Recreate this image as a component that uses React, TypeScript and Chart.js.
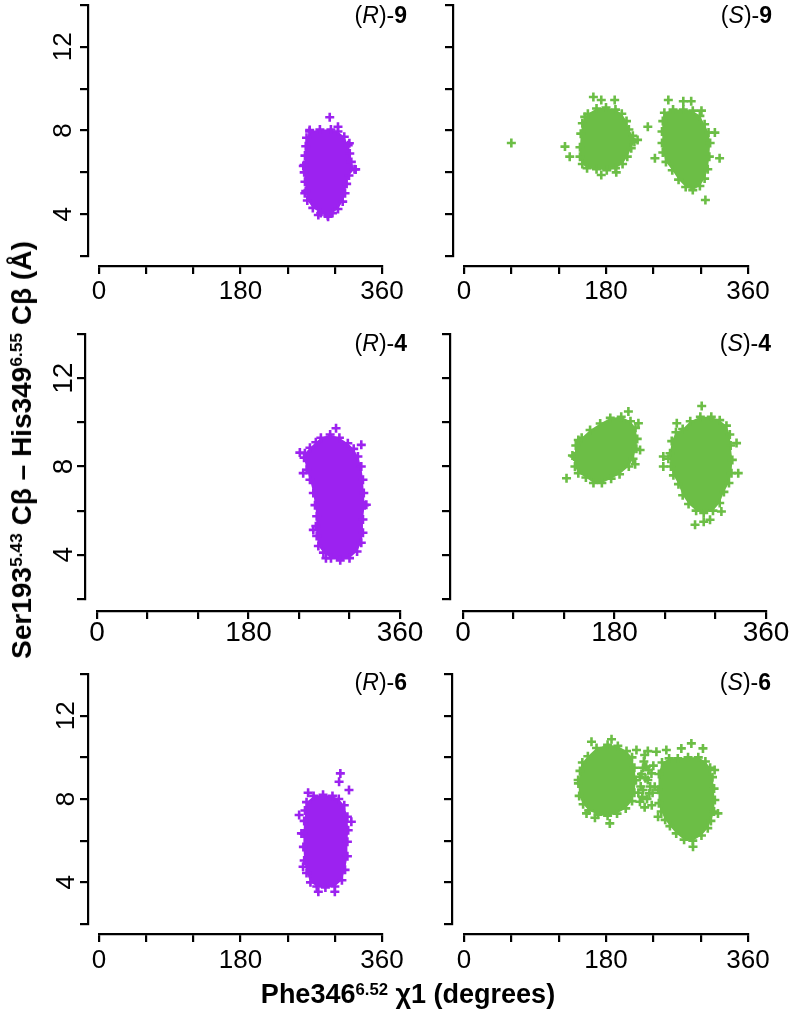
import React, { useEffect, useRef } from "react";
import { Chart, registerables } from "chart.js";

Chart.register(...registerables);

type Pt = [number, number];

const FONT = '"Liberation Sans", Arial, Helvetica, sans-serif';

// axes
const X_MIN = 0;
const X_MAX = 360;
const X_STEP = 60;
const Y_MIN = 2;
const Y_MAX = 14;
const Y_STEP = 2;
const X_TICK_LABELS = [0, 180, 360];
const Y_TICK_LABELS = [4, 8, 12];

const PURPLE = "#9c22f0";
const GREEN = "#6cbe46";

// (R)-9 : outline of the dense cloud, and the sparse points around it
const R9_CLOUD: Pt[] = [
  [268, 7.95], [281, 8.05], [295, 8.05], [304, 7.95], [312, 7.7], [317, 7.3], [319, 6.9],
  [321, 6.5], [325, 6.15], [318, 5.85], [315, 5.45], [313, 5.0], [310, 4.6], [304, 4.25],
  [297, 4.05], [291, 3.95], [282, 4.05], [272, 4.3], [265, 4.65], [263, 5.1], [262, 5.55],
  [261, 6.0], [261, 6.35], [262, 6.8], [263, 7.25], [264, 7.65],
];
const R9_SPARSE: Pt[] = [
  [293.5, 8.63], [304, 8.18], [318.5, 7.39], [326.5, 6.14], [259.9, 6.3], [261.8, 5.0],
  [291.4, 3.88], [279, 3.96], [268, 8.02],
];

// (S)-9
const S9_CLOUD_A: Pt[] = [
  [157, 8.8], [168, 9.05], [180, 9.1], [192, 9.0], [200, 8.8], [206, 8.45], [209, 8.05],
  [214, 7.75], [216, 7.45], [212, 7.15], [207, 6.75], [201, 6.4], [192, 6.2], [181, 6.1],
  [168, 6.15], [156, 6.2], [150, 6.4], [147, 6.75], [147, 7.2], [148, 7.85], [150, 8.35],
  [153, 8.65],
];
const S9_CLOUD_B: Pt[] = [
  [254, 8.85], [265, 9.0], [278, 9.0], [290, 8.95], [299, 8.7], [305, 8.3], [310, 7.9],
  [312, 7.4], [311, 6.75], [309, 6.15], [305, 5.7], [299, 5.35], [290, 5.15], [281, 5.3],
  [272, 5.65], [264, 6.1], [256, 6.5], [252, 6.95], [251, 7.4], [251, 7.95], [252, 8.45],
];
const S9_SPARSE: Pt[] = [
  [60, 7.4], [164, 9.6], [174, 9.46], [191, 9.46], [128, 7.23], [134, 6.75], [220, 7.55],
  [174, 5.87], [193, 6.0], [233, 8.18], [242, 6.67], [259, 9.46], [278, 9.4], [288, 9.4],
  [301, 8.95], [324, 6.67], [306, 4.68], [318, 7.9],
];

// (R)-4
const R4_CLOUD: Pt[] = [
  [266, 9.3], [277, 9.45], [288, 9.3], [298, 9.05], [305, 8.8], [310, 8.45], [314, 8.0],
  [316, 7.4], [317, 6.8], [318, 6.25], [316, 5.6], [316, 5.0], [314, 4.55], [309, 4.15],
  [300, 3.85], [289, 3.75], [278, 3.85], [269, 4.1], [263, 4.4], [261, 4.85], [260, 5.3],
  [261, 5.75], [259, 6.25], [257, 6.8], [253, 7.4], [249, 7.85], [246, 8.4], [247, 8.6],
  [253, 8.85], [260, 9.1],
];
const R4_SPARSE: Pt[] = [
  [284, 9.73], [241, 8.63], [314, 8.98], [245, 7.7], [320, 6.27], [257, 5.13], [272, 3.85],
];

// (S)-4
const S4_CLOUD_A: Pt[] = [
  [141, 9.3], [151, 9.65], [163, 9.95], [175, 10.2], [188, 10.25], [199, 10.05], [205, 9.75],
  [207, 9.25], [206, 8.8], [202, 8.35], [197, 8.0], [186, 7.65], [176, 7.45], [165, 7.25],
  [155, 7.25], [146, 7.5], [137, 7.7], [133, 8.0], [132, 8.45], [134, 8.95], [137, 9.2],
];
const S4_CLOUD_B: Pt[] = [
  [253, 9.55], [261, 9.7], [270, 10.05], [282, 10.25], [295, 10.25], [305, 10.1], [313, 9.85],
  [317, 9.45], [318, 8.95], [320, 8.3], [319, 7.7], [316, 7.25], [310, 6.85], [305, 6.35],
  [297, 6.0], [286, 5.9], [277, 6.0], [268, 6.3], [261, 6.7], [256, 7.2], [250, 7.6],
  [247, 8.0], [246, 8.6], [248, 9.15],
];
const S4_SPARSE: Pt[] = [
  [123, 7.47], [196.5, 10.49], [208.4, 9.96], [210.4, 8.75], [204.5, 8.1], [130, 8.5],
  [238, 8.45], [238, 8.0], [254, 9.96], [283.6, 10.74], [325, 9.06], [327, 7.7],
  [275.7, 5.36], [293.5, 5.59], [307, 5.96], [286, 5.5], [244, 8.35],
];

// (R)-6
const R6_CLOUD: Pt[] = [
  [264, 7.85], [273, 8.15], [285, 8.2], [297, 8.15], [305, 8.0], [312, 7.7], [316, 7.15],
  [317, 6.5], [316, 5.95], [316, 5.25], [313, 4.6], [309, 4.1], [300, 3.8], [288, 3.75],
  [277, 3.8], [269, 4.0], [264, 4.45], [261, 5.05], [260, 5.7], [260, 6.35], [261, 6.95],
  [262, 7.45],
];
const R6_SPARSE: Pt[] = [
  [307, 9.23], [305.4, 8.83], [318, 8.43], [254.6, 7.23], [266, 8.3], [257.5, 6.35],
  [259.6, 4.75], [321, 6.91], [279, 3.55], [300, 3.55],
];

// (S)-6
const S6_CLOUD_A: Pt[] = [
  [157, 10.05], [168, 10.45], [182, 10.6], [195, 10.55], [206, 10.3], [213, 10.0], [216, 9.5],
  [218, 8.9], [216, 8.3], [213, 7.9], [205, 7.55], [194, 7.3], [182, 7.2], [170, 7.25],
  [158, 7.45], [151, 7.75], [146, 8.15], [145, 8.75], [147, 9.35], [150, 9.75],
];
const S6_CLOUD_B: Pt[] = [
  [251, 9.75], [260, 9.95], [271, 9.95], [284, 10.0], [297, 10.0], [306, 9.8], [312, 9.5],
  [315, 9.05], [317, 8.5], [318, 7.95], [317, 7.4], [313, 6.95], [309, 6.6], [301, 6.25],
  [290, 6.0], [279, 6.05], [269, 6.35], [261, 6.7], [255, 7.0], [250, 7.4], [247, 7.8],
  [246, 8.45], [247, 9.2],
];
const S6_SPARSE: Pt[] = [
  [187, 10.87], [161.6, 10.75], [218.6, 10.35], [144.7, 8.91], [155.3, 7.31], [184.8, 6.83],
  [166, 7.1], [222.8, 9.07], [229, 10.11], [231, 9.55], [233, 8.91], [227, 8.43], [223, 7.87],
  [235, 8.27], [237.6, 9.23], [225, 9.2], [228, 9.8], [236, 8.6], [226, 8.1], [243.9, 10.27],
  [230, 9.0], [232, 8.0], [238, 7.7], [224, 8.6], [229, 7.6], [240, 9.6], [233, 10.3],
  [221, 8.3], [227, 9.5], [234, 9.4], [239, 8.3],
  [256.5, 10.35], [275.5, 10.43], [288.2, 10.67], [302.9, 10.43], [321.9, 7.31], [317.7, 9.39],
  [290.3, 5.71], [241.8, 8.59], [246, 7.15],
];

type PanelDef = {
  conf: string;
  num: string;
  color: string;
  clouds: Pt[][];
  sparse: Pt[];
  yLabels: boolean;
  area: [number, number, number, number]; // left, top, right, bottom (px)
  yLine: number;
  xLine: number;
  tickFont: number;
  xLabelOff: number;
  yLabelOff: number;
  tag: [number, number]; // right edge, baseline
};

const PANELS: PanelDef[] = [
  { conf: "R", num: "9", color: PURPLE, clouds: [R9_CLOUD], sparse: R9_SPARSE, yLabels: true,
    area: [99, 5, 382, 256], yLine: 88, xLine: 266, tickFont: 26, xLabelOff: 25.7, yLabelOff: 24.2, tag: [407, 23] },
  { conf: "S", num: "9", color: GREEN, clouds: [S9_CLOUD_A, S9_CLOUD_B], sparse: S9_SPARSE, yLabels: false,
    area: [464, 5, 748, 256], yLine: 453, xLine: 266, tickFont: 26, xLabelOff: 25.7, yLabelOff: 24.2, tag: [772, 23] },
  { conf: "R", num: "4", color: PURPLE, clouds: [R4_CLOUD], sparse: R4_SPARSE, yLabels: true,
    area: [97, 334, 400, 599], yLine: 85, xLine: 611, tickFont: 28, xLabelOff: 22.5, yLabelOff: 20.5, tag: [407, 351] },
  { conf: "S", num: "4", color: GREEN, clouds: [S4_CLOUD_A, S4_CLOUD_B], sparse: S4_SPARSE, yLabels: false,
    area: [463, 334, 766, 599], yLine: 450, xLine: 611, tickFont: 28, xLabelOff: 22.5, yLabelOff: 20.5, tag: [771, 351] },
  { conf: "R", num: "6", color: PURPLE, clouds: [R6_CLOUD], sparse: R6_SPARSE, yLabels: true,
    area: [99, 674, 382, 924], yLine: 88, xLine: 934, tickFont: 26, xLabelOff: 27, yLabelOff: 21.4, tag: [407, 690] },
  { conf: "S", num: "6", color: GREEN, clouds: [S6_CLOUD_A, S6_CLOUD_B], sparse: S6_SPARSE, yLabels: false,
    area: [464, 674, 748, 924], yLine: 452, xLine: 934, tickFont: 26, xLabelOff: 27, yLabelOff: 21.4, tag: [771, 690] },
];

const TICK_LEN = 8;
const LEFT_SPACE = 62;
const TOP_SPACE = 8;
const RIGHT_SPACE = 34;
const BOTTOM_SPACE = 50;

function Panel({ p }: { p: PanelDef }) {
  const ref = useRef<HTMLCanvasElement>(null);
  const [l, t, r, b] = p.area;
  const cLeft = p.yLine - LEFT_SPACE;
  const cTop = t - TOP_SPACE;
  const cW = r + RIGHT_SPACE - cLeft;
  const cH = p.xLine + BOTTOM_SPACE - cTop;

  useEffect(() => {
    if (!ref.current) return;
    const xPad = p.xLabelOff - TICK_LEN - (p.tickFont * 1.2) / 2;
    const yPad = p.yLabelOff - TICK_LEN - (p.tickFont * 1.112) / 2;
    const cross = {
      pointStyle: "cross",
      pointRadius: 4.5,
      pointHoverRadius: 4.5,
      pointBorderWidth: 2.6,
      pointBorderColor: p.color,
      pointBackgroundColor: p.color,
    };
    const toXY = (pts: Pt[]) => pts.map(([x, y]) => ({ x, y }));
    const datasets: any[] = [
      ...p.clouds.map((c) => ({
        data: toXY(c),
        showLine: true,
        fill: "shape",
        backgroundColor: p.color,
        borderColor: p.color,
        borderWidth: 0,
        tension: 0,
        ...cross,
      })),
      {
        data: toXY(p.sparse),
        showLine: false,
        backgroundColor: p.color,
        borderColor: p.color,
        ...cross,
      },
    ];
    const gridOpts = {
      display: true,
      drawOnChartArea: false,
      drawTicks: true,
      tickLength: TICK_LEN,
      lineWidth: 2.2,
      color: "#000",
    };
    const borderOpts = { display: true, width: 2.2, color: "#000" };
    const hidden = {
      ticks: { display: false },
      grid: { display: false },
      border: { display: false },
    };
    const chart = new Chart(ref.current, {
      type: "scatter",
      data: { datasets },
      options: {
        responsive: false,
        animation: false,
        events: [],
        layout: {
          autoPadding: false,
          padding: { left: 0, top: TOP_SPACE, right: RIGHT_SPACE, bottom: 0 },
        },
        plugins: {
          legend: { display: false },
          tooltip: { enabled: false },
          title: { display: false },
        },
        scales: {
          x: {
            type: "linear",
            position: "bottom",
            weight: 1,
            min: X_MIN,
            max: X_MAX,
            afterFit: (s: any) => {
              s.height = BOTTOM_SPACE;
              s.paddingLeft = 0;
              s.paddingRight = 0;
            },
            ticks: {
              stepSize: X_STEP,
              autoSkip: false,
              maxRotation: 0,
              minRotation: 0,
              padding: xPad,
              color: "#000",
              font: { family: FONT, size: p.tickFont },
              callback: (v: any) => (X_TICK_LABELS.includes(v) ? String(v) : ""),
            },
            grid: gridOpts,
            border: borderOpts,
          },
          xGap: {
            type: "linear",
            position: "bottom",
            weight: 0,
            display: true,
            afterFit: (s: any) => {
              s.height = p.xLine - b;
              s.paddingLeft = 0;
              s.paddingRight = 0;
            },
            ...hidden,
          },
          y: {
            type: "linear",
            position: "left",
            weight: 1,
            min: Y_MIN,
            max: Y_MAX,
            afterFit: (s: any) => {
              s.width = LEFT_SPACE;
              s.paddingTop = 0;
              s.paddingBottom = 0;
            },
            ticks: {
              stepSize: Y_STEP,
              autoSkip: false,
              minRotation: 90,
              maxRotation: 90,
              crossAlign: "center",
              padding: yPad,
              color: "#000",
              font: { family: FONT, size: p.tickFont },
              callback: (v: any) =>
                p.yLabels && Y_TICK_LABELS.includes(v) ? String(v) : "",
            },
            grid: gridOpts,
            border: borderOpts,
          },
          yGap: {
            type: "linear",
            position: "left",
            weight: 0,
            display: true,
            afterFit: (s: any) => {
              s.width = l - p.yLine;
              s.paddingTop = 0;
              s.paddingBottom = 0;
            },
            ...hidden,
          },
        },
      } as any,
    });
    return () => chart.destroy();
  }, []);

  return (
    <>
      <canvas
        ref={ref}
        width={cW}
        height={cH}
        style={{ position: "absolute", left: cLeft, top: cTop, width: cW, height: cH }}
      />
      <div
        style={{
          position: "absolute",
          right: 791 - p.tag[0],
          top: p.tag[1] - 19.5,
          font: `23px ${FONT}`,
          lineHeight: 1,
          whiteSpace: "nowrap",
          color: "#000",
        }}
      >
        (<i>{p.conf}</i>)-<b>{p.num}</b>
      </div>
    </>
  );
}

const supStyle: React.CSSProperties = { fontSize: "0.62em", verticalAlign: "0.5em", lineHeight: 1 };

export default function App() {
  return (
    <div
      style={{
        position: "absolute",
        left: 0,
        top: 0,
        width: 791,
        height: 1020,
        background: "#fff",
        overflow: "hidden",
        fontFamily: FONT,
      }}
    >
      {PANELS.map((p, i) => (
        <Panel key={i} p={p} />
      ))}
      <div
        style={{
          position: "absolute",
          left: 22,
          top: 450,
          transform: "translate(-50%, -50%) rotate(-90deg)",
          whiteSpace: "nowrap",
          font: `bold 28px ${FONT}`,
          lineHeight: 1,
          color: "#000",
        }}
      >
        Ser193<sup style={supStyle}>5.43</sup> Cβ – His349<sup style={supStyle}>6.55</sup> Cβ (Å)
      </div>
      <div
        style={{
          position: "absolute",
          left: 408,
          top: 981,
          transform: "translateX(-50%)",
          whiteSpace: "nowrap",
          font: `bold 27px ${FONT}`,
          lineHeight: 1,
          color: "#000",
        }}
      >
        Phe346<sup style={supStyle}>6.52</sup> χ1 (degrees)
      </div>
    </div>
  );
}
